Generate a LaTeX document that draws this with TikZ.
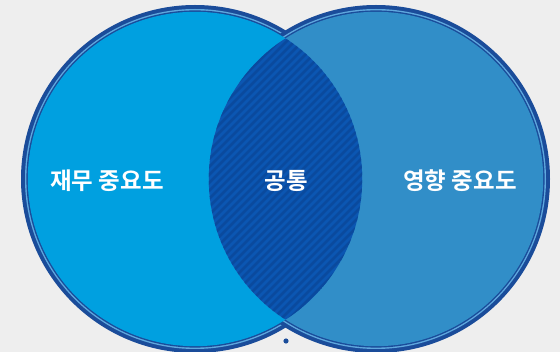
\documentclass[tikz,border=0pt]{standalone}
\usepackage{fontspec}
\newfontfamily\kr{Noto Sans CJK KR Bold}
\definecolor{bg}{HTML}{EEEEEE}
\definecolor{ring}{HTML}{1A4C9A}
\definecolor{ringlight}{HTML}{5FA8DE}
\definecolor{leftfill}{HTML}{00A0E0}
\definecolor{rightfill}{HTML}{318EC8}
\definecolor{lensfill}{HTML}{0B56B2}
\definecolor{stripe}{HTML}{0A4A9E}
\tikzset{
  lbl/.style={text=white, font=\kr\fontsize{23.5}{26}\selectfont, inner sep=0pt},
}
\begin{document}
\begin{tikzpicture}[x=1pt,y=-1pt]
\fill[bg] (0,0) rectangle (560,352);
\useasboundingbox (0,0) rectangle (560,352);
\coordinate (cl) at (195,179);
\coordinate (cr) at (376,179);
% rings
\foreach \c in {cl,cr}{
  \fill[ring] (\c) circle (174);
  \fill[ringlight] (\c) circle (170);
  \fill[ring] (\c) circle (168.6);
}
% fills
\fill[leftfill] (cl) circle (167.2);
\fill[rightfill] (cr) circle (167.2);
% lens
\begin{scope}
  \clip (cl) circle (167.2);
  \clip (cr) circle (167.2);
  \fill[lensfill] (180,0) rectangle (400,352);
  \foreach \k in {-40,...,80}{
    \draw[stripe, line width=2.8pt] (\k*8,360) -- (\k*8+360,0);
  }
\end{scope}
\node[lbl] (a) at (107,181) {재무 중요도};
\node[lbl] (b) at (286,181) {공통};
\node[lbl] (c) at (460,181) {영향 중요도};
\fill[ring] (286,341) circle (2.6) coordinate (dot);
\end{tikzpicture}
\end{document}
